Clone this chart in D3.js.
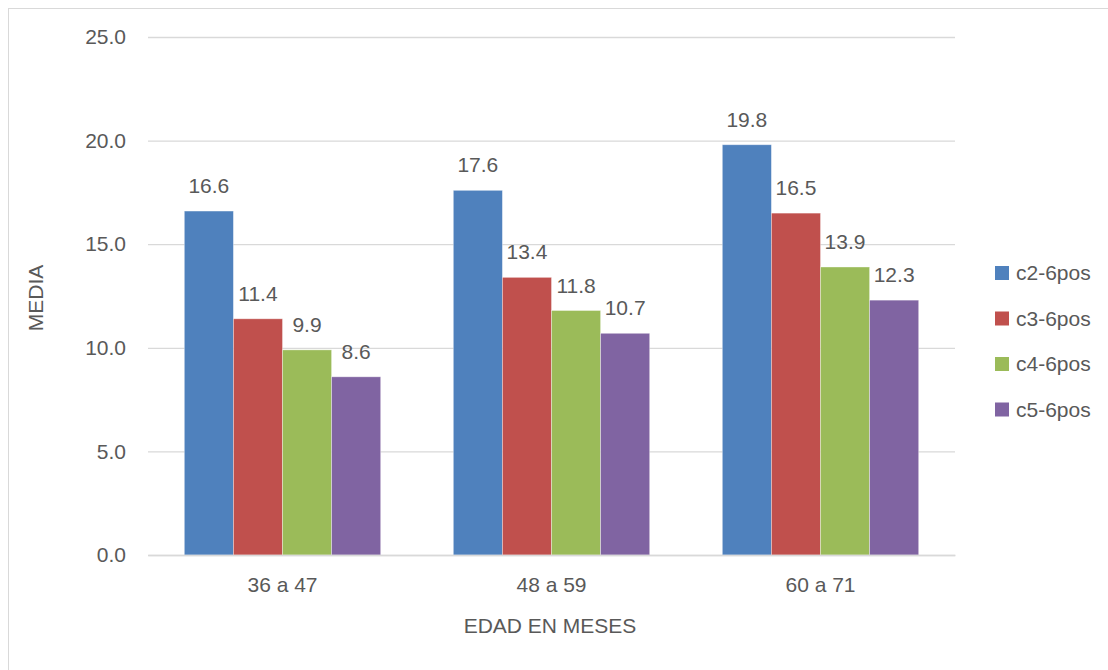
<!DOCTYPE html>
<html><head><meta charset="utf-8">
<script src="https://cdn.jsdelivr.net/npm/d3@7"></script>
<style>body{margin:0;background:#fff}svg{display:block}text{font-family:"Liberation Sans",Arial,sans-serif;fill:#595959}</style>
</head><body><svg id="c" width="1108" height="670"></svg>
<script>
const categories = ["36 a 47", "48 a 59", "60 a 71"];
const seriesNames = ["c2-6pos", "c3-6pos", "c4-6pos", "c5-6pos"];
const c2 = [16.6, 17.6, 19.8];
const c3 = [11.4, 13.4, 16.5];
const c4 = [9.9, 11.8, 13.9];
const c5 = [8.6, 10.7, 12.3];
const yTicks = [0, 5, 10, 15, 20, 25];
const colors = ["#4F81BD", "#C0504D", "#9BBB59", "#8064A2"];
const seriesValues = [c2, c3, c4, c5];

(function () {
const FS = 21;
const svg = d3.select("#c");
svg.append("rect").attr("x", 8.5).attr("y", 8.5).attr("width", 1120).attr("height", 700)
  .attr("fill", "#fff").attr("stroke", "#d9d9d9").attr("stroke-width", 1);

const mLeft = 148, mRight = 955, mTop = 37, mBottom = 555;
const y = d3.scaleLinear().domain([0, 25]).range([mBottom, mTop]);
const x = d3.scaleBand().domain(categories).range([mLeft, mRight]).paddingInner(0.27).paddingOuter(0.135);
const xs = d3.scaleBand().domain(seriesNames).range([0, x.bandwidth()]);

const yAxis = d3.axisLeft(y).tickValues(yTicks).tickFormat(d3.format(".1f")).tickSize(-(mRight - mLeft)).tickPadding(22);
const gy = svg.append("g").attr("transform", `translate(${mLeft},0)`).call(yAxis);
gy.select(".domain").remove();
gy.selectAll(".tick line").attr("stroke", "#d9d9d9").attr("stroke-width", 1.3);
gy.selectAll(".tick text").attr("font-size", FS).attr("fill", "#595959");

const groups = svg.append("g").selectAll("g").data(categories).join("g")
  .attr("transform", d => `translate(${x(d)},0)`);
groups.each(function (cat, ci) {
  const g = d3.select(this);
  seriesNames.forEach((s, si) => {
    const v = seriesValues[si][ci];
    g.append("rect").attr("x", xs(s)).attr("y", y(v)).attr("width", xs.bandwidth())
      .attr("height", y(0) - y(v)).attr("fill", colors[si])
      .attr("stroke", "#ffffff").attr("stroke-opacity", 0.45).attr("stroke-width", 0.8);
    g.append("text").attr("x", xs(s) + xs.bandwidth() / 2).attr("y", y(v) - 18)
      .attr("text-anchor", "middle").attr("font-size", FS).attr("fill", "#404040").text(d3.format(".1f")(v));
  });
});

const gx = svg.append("g").attr("transform", `translate(0,${mBottom})`)
  .call(d3.axisBottom(x).tickSize(0).tickPadding(22));
gx.select(".domain").attr("stroke", "#d9d9d9").attr("stroke-width", 1.3);
gx.selectAll(".tick text").attr("font-size", FS).attr("fill", "#595959");

svg.append("text").attr("x", 550).attr("y", 633).attr("text-anchor", "middle")
  .attr("font-size", FS).text("EDAD EN MESES");
svg.append("text").attr("transform", "translate(43,298) rotate(-90)").attr("text-anchor", "middle")
  .attr("font-size", FS).text("MEDIA");

const lg = svg.append("g").selectAll("g").data(seriesNames).join("g")
  .attr("transform", (d, i) => `translate(995,${266 + i * 45.5})`);
lg.append("rect").attr("width", 14).attr("height", 14).attr("fill", (d, i) => colors[i]);
lg.append("text").attr("x", 21).attr("y", 7).attr("dy", "0.35em").attr("font-size", FS).text(d => d);
})();
</script></body></html>
